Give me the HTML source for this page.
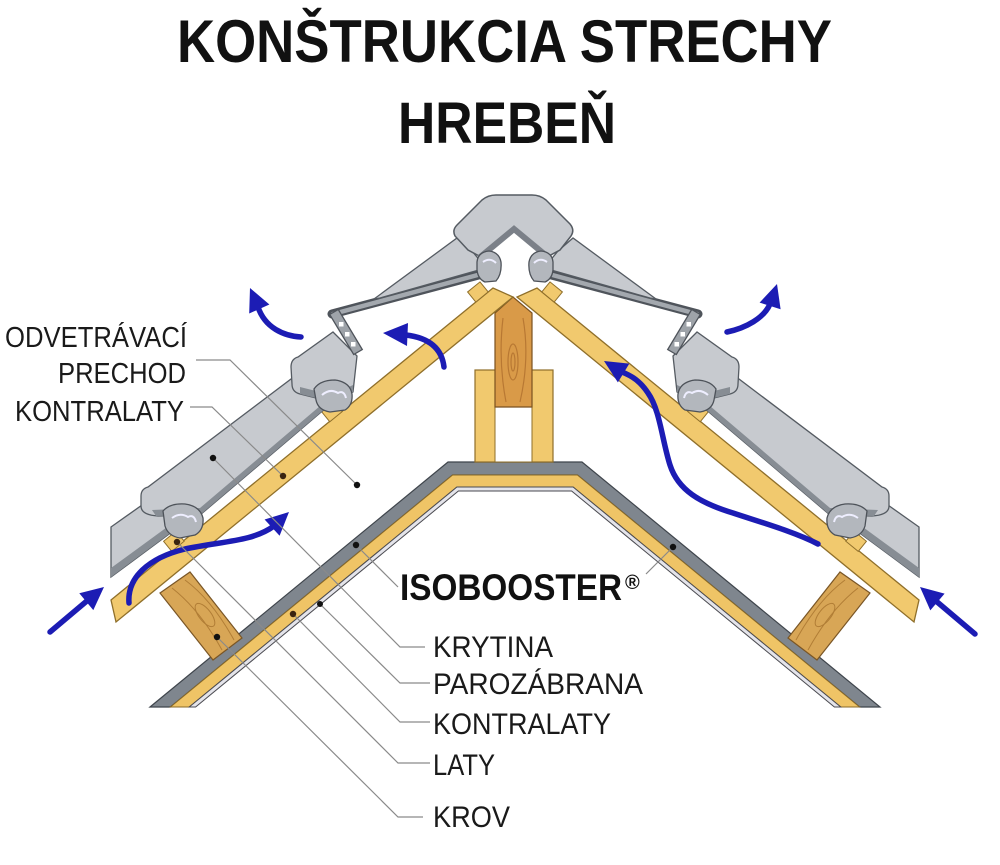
<!DOCTYPE html>
<html><head><meta charset="utf-8"><style>
html,body{margin:0;padding:0;background:#fff;}
svg{display:block;}
</style></head><body>
<svg width="1000" height="865" viewBox="0 0 1000 865" xmlns="http://www.w3.org/2000/svg" xmlns:xlink="http://www.w3.org/1999/xlink">
<rect width="1000" height="865" fill="#fff"/>

<!-- Title -->
<text x="177" y="62" font-family="Liberation Sans, sans-serif" font-weight="bold" font-size="60" textLength="655" lengthAdjust="spacingAndGlyphs" fill="#111">KONŠTRUKCIA STRECHY</text>
<text x="398" y="143" font-family="Liberation Sans, sans-serif" font-weight="bold" font-size="58" textLength="218" lengthAdjust="spacingAndGlyphs" fill="#111">HREBEŇ</text>

<!-- Inner layers (isobooster ceiling) -->
<polygon points="150,707 448,462 582,462 880,707 859.6,707 577.4,475 452.6,475 170.4,707" fill="#7f868e" stroke="#3f454c" stroke-width="1.2"/>
<polygon points="170.4,707 452.6,475 577.4,475 859.6,707 840.8,707 573.1,487 456.9,487 189.2,707" fill="#efc466" stroke="#8a6a28" stroke-width="1"/>
<polygon points="189.2,707 456.9,487 573.1,487 840.8,707 834.4,707 571.6,491 458.4,491 195.6,707" fill="#e4e4ea" stroke="#4a4a50" stroke-width="1"/>

<!-- Clamp boards and ridge post -->
<rect x="475" y="370" width="78" height="92" fill="#f1c96e" stroke="#8f6f2a" stroke-width="1.2"/>
<rect x="495" y="407" width="37" height="55" fill="#fff" stroke="#8f6f2a" stroke-width="1"/>
<polygon points="495,313 513,297 532,313 532,407 495,407" fill="#d99a48" stroke="#7a5220" stroke-width="1.2"/>
<g fill="none" stroke="#b0702e" stroke-width="1.2" opacity="0.8">
<path d="M503,318 Q498,360 506,402"/>
<path d="M523,318 Q530,358 520,402"/>
<ellipse cx="513" cy="362" rx="5" ry="18"/>
<ellipse cx="513" cy="362" rx="2" ry="9"/>
</g>

<!-- Left half of roof (mirrored for right) -->
<g id="half">
  <polygon points="160,593 190,572 242,638 213,660" fill="#d8a656" stroke="#7a5626" stroke-width="1.2"/>
  <g fill="none" stroke="#a8742e" stroke-width="1" opacity="0.8">
    <path d="M172,588 Q200,610 222,650"/>
    <path d="M185,580 Q212,600 234,640"/>
    <ellipse cx="205" cy="615" rx="6" ry="14" transform="rotate(-38 205 615)"/>
  </g>
  <polygon points="111,600 493,288 513,297 116,622" fill="#f1c96e" stroke="#8f6f2a" stroke-width="1.3"/>
  <polygon points="171.8,551.4 184.2,541.2 176,531.1 163.6,541.3" fill="#f1c96e" stroke="#8f6f2a" stroke-width="1"/>
  <polygon points="329.8,421.8 342.2,411.6 334,401.6 321.6,411.7" fill="#f1c96e" stroke="#8f6f2a" stroke-width="1"/>
  <polygon points="475.8,302.1 488.2,291.9 480,281.9 467.6,292" fill="#f1c96e" stroke="#8f6f2a" stroke-width="1"/>
  <polygon points="111,527 200,464 200,511 111,577" fill="#c7cacf" stroke="#555b62" stroke-width="1.3"/>
  <polygon points="111,568 200,503 200,511 111,577" fill="#878d94"/>
  <path d="M141,496 Q141,489 148,487 L340,342 L340,396 L200,515 L158,516 Q141,515 141,506 Z" fill="#c7cacf" stroke="#555b62" stroke-width="1.3"/>
  <path d="M152,510 L200,508 L340,389 L340,396 L200,515 L156,516 Z" fill="#878d94"/>
  <path d="M291,367 Q291,359 298,357 L333,332 L357,356 L353,392 L332,402 L300,394 Q292,392 292,384 Z" fill="#c7cacf" stroke="#555b62" stroke-width="1.3"/>
  <path d="M300,387 L332,395 L353,385 L353,392 L332,402 L300,394 Z" fill="#878d94"/>
  <path d="M163,511 Q170,503 185,504 Q200,506 203,518 Q204,530 195,535 L180,538 Q168,536 165,526 Z" fill="#b3b7bd" stroke="#4d5259" stroke-width="1.3"/>
  <path d="M172,518 Q180,512 188,517 Q194,514 196,522" fill="none" stroke="#eef" stroke-width="2"/>
  <path d="M314,389 Q320,380 335,380 Q350,382 352,394 Q353,405 345,410 L330,412 Q318,410 316,400 Z" fill="#b3b7bd" stroke="#4d5259" stroke-width="1.3"/>
  <path d="M322,395 Q330,388 338,393 Q344,390 346,398" fill="none" stroke="#eef" stroke-width="2"/>
  <path d="M332,314 L486,273" stroke="#4f545b" stroke-width="9" stroke-linecap="round" fill="none"/>
  <path d="M333,314 L485,273" stroke="#a3a8ae" stroke-width="4.5" stroke-linecap="round" fill="none"/>
  <polygon points="329.7,314.5 338.3,309.5 362.3,349.5 353.7,354.5" fill="#9ea3a9" stroke="#4f545b" stroke-width="1.3"/>
  <rect x="339" y="322" width="4.5" height="4.5" fill="#fff"/>
  <rect x="345" y="332" width="4.5" height="4.5" fill="#fff"/>
  <rect x="351" y="342" width="4.5" height="4.5" fill="#fff"/>
  <polygon points="374,299 457,238 472,251 486,268 380,298" fill="#c7cacf" stroke="#555b62" stroke-width="1.3"/>
</g>
<use xlink:href="#half" href="#half" transform="translate(1030,0) scale(-1,1)"/>

<!-- Ridge cap -->
<path d="M455,236 Q452,230 457,225 L482,200 Q488,195 496,195 L532,195 Q540,195 546,200 L570,224 Q575,230 571,236 L560,250 L547,257 L514,229 L481,257 L468,250 Z" fill="#c7cacf" stroke="#555b62" stroke-width="1.5"/>
<path d="M479,258 L514,229 L549,258" fill="none" stroke="#7b8088" stroke-width="6"/>

<g id="rh">
<path d="M477,262 Q478,252 489,251 Q499,252 501,262 Q502,274 496,281 L485,282 Q478,279 477,270 Z" fill="#b3b7bd" stroke="#4d5259" stroke-width="1.3"/>
<path d="M483,262 Q490,257 496,263" fill="none" stroke="#eef" stroke-width="2"/>
</g>
<use xlink:href="#rh" href="#rh" transform="translate(1030,0) scale(-1,1)"/>

<!-- Arrows -->
<g stroke="#1c1cb4" stroke-width="5.5" fill="none" stroke-linecap="round">
<path d="M50,632 L88,600"/>
<path d="M975,634 L936,601"/>
<path d="M129,603 C127,578 148,558 185,549 C222,541 252,542 274,526"/>
<path d="M301,337 C284,336 265,328 258,307"/>
<path d="M444,367 C442,350 431,338 406,335"/>
<path d="M727,332 C746,328 764,318 770,304"/>
<path d="M818,544 C795,532 760,522 733,513 C700,503 678,490 670,465 C662,440 660,410 648,393 C640,381 632,376 622,372"/>
</g>
<g fill="#1c1cb4">
<polygon points="104,587 93.3,610.1 79.3,593.3"/>
<polygon points="920,587 944.6,593.6 930.3,610.4"/>
<polygon points="289,512 279.6,535.7 264.6,519.5"/>
<polygon points="250,288 269.4,304.5 249.2,313.5"/>
<polygon points="383,333 408,323 407,346"/>
<polygon points="777,284 780.6,309.2 759.6,302.6"/>
<polygon points="604,361 629.3,363.6 617.9,382.4"/>
</g>

<!-- Label leader lines -->
<g stroke="#8a8a8a" stroke-width="1.2" fill="none">
<polyline points="196,360 230,360 357,485"/>
<polyline points="190,407 212,407 283,476"/>
<polyline points="213,458 400,647 425,647"/>
<polyline points="320,604 400,683 430,683"/>
<polyline points="293,614 400,722 430,722"/>
<polyline points="177,542 398,763 430,763"/>
<polyline points="217,637 398,817 423,817"/>
<polyline points="356,545 398,587"/>
<polyline points="673,547 646,574"/>
</g>

<g fill="#111">
<circle cx="213" cy="458" r="3.2"/>
<circle cx="283" cy="476" r="3.2" fill="#3a2410"/>
<circle cx="357" cy="485" r="3.2"/>
<circle cx="177" cy="542" r="3.2" fill="#3a2410"/>
<circle cx="217" cy="637" r="3.2"/>
<circle cx="356" cy="545" r="3.2"/>
<circle cx="293" cy="614" r="3.2" fill="#3a2410"/>
<circle cx="320" cy="604" r="3"/>
<circle cx="673" cy="547" r="3.2"/>
</g>

<g font-family="Liberation Sans, sans-serif" font-size="29" fill="#1a1a1a">
<text x="5" y="347" textLength="182" lengthAdjust="spacingAndGlyphs">ODVETRÁVACÍ</text>
<text x="58" y="383" textLength="128" lengthAdjust="spacingAndGlyphs">PRECHOD</text>
<text x="15" y="421" textLength="169" lengthAdjust="spacingAndGlyphs">KONTRALATY</text>
</g>
<g font-family="Liberation Sans, sans-serif" font-size="30" fill="#1a1a1a">
<text x="433" y="657" textLength="120" lengthAdjust="spacingAndGlyphs">KRYTINA</text>
<text x="433" y="694" textLength="210" lengthAdjust="spacingAndGlyphs">PAROZÁBRANA</text>
<text x="433" y="734" textLength="178" lengthAdjust="spacingAndGlyphs">KONTRALATY</text>
<text x="433" y="775" textLength="62" lengthAdjust="spacingAndGlyphs">LATY</text>
<text x="433" y="827" textLength="77" lengthAdjust="spacingAndGlyphs">KROV</text>
</g>
<text x="400" y="600" font-family="Liberation Sans, sans-serif" font-weight="bold" font-size="37" textLength="222" lengthAdjust="spacingAndGlyphs" fill="#111">ISOBOOSTER</text>
<text x="625" y="589" font-family="Liberation Sans, sans-serif" font-weight="bold" font-size="20" fill="#111">®</text>
</svg>
</body></html>
